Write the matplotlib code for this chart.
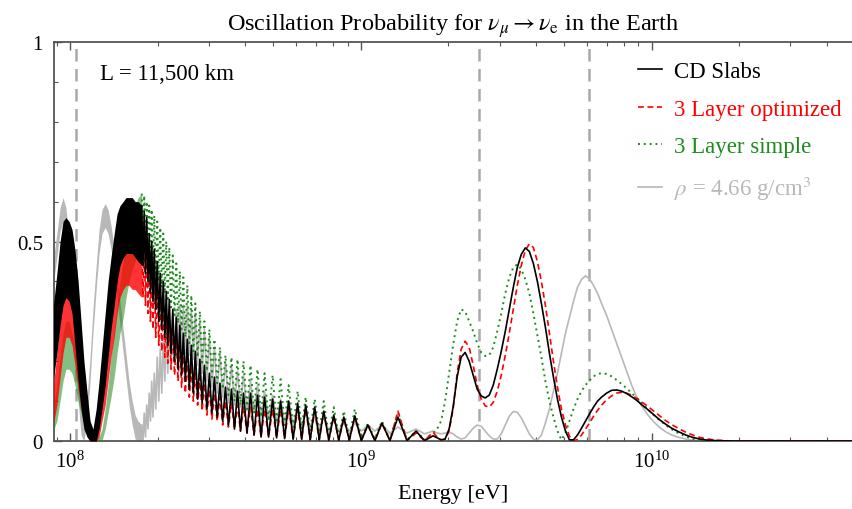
import matplotlib
matplotlib.use('Agg')
import matplotlib.pyplot as plt
import numpy as np
from matplotlib.lines import Line2D
from matplotlib.ticker import MultipleLocator, FixedLocator, FixedFormatter, NullFormatter

plt.rcParams['font.family'] = 'Liberation Serif'
plt.rcParams['mathtext.fontset'] = 'stix'

# All energies below are log10(E / eV).

# Lowest energies: oscillations too fast to resolve, drawn as bands (upper / lower envelope)
low_log10E = [7.940, 7.955, 7.966, 7.976, 7.986, 7.997, 8.007, 8.017, 8.028, 8.038,
              8.048, 8.059, 8.069, 8.079, 8.090, 8.100, 8.110, 8.121, 8.131, 8.141,
              8.152, 8.162, 8.172, 8.183, 8.193, 8.203, 8.214, 8.224, 8.234, 8.2466]

cd_band_hi = [0.32, 0.42, 0.50, 0.55, 0.56, 0.55, 0.53, 0.48, 0.40, 0.30,
              0.20, 0.12, 0.05, 0.03, 0.08, 0.15, 0.23, 0.32, 0.40, 0.46,
              0.52, 0.57, 0.59, 0.60, 0.61, 0.61, 0.61, 0.60, 0.60, 0.59]
cd_band_lo = [0.14, 0.22, 0.29, 0.34, 0.36, 0.35, 0.32, 0.24, 0.15, 0.08,
              0.03, 0.01, 0.0, 0.0, 0.0, 0.03, 0.08, 0.14, 0.21, 0.28,
              0.34, 0.40, 0.44, 0.46, 0.47, 0.47, 0.47, 0.46, 0.45, 0.44]

opt_band_hi = [0.12, 0.22, 0.30, 0.36, 0.39, 0.39, 0.37, 0.33, 0.27, 0.20,
               0.13, 0.08, 0.04, 0.02, 0.04, 0.09, 0.16, 0.25, 0.34, 0.42,
               0.49, 0.54, 0.58, 0.60, 0.61, 0.60, 0.59, 0.58, 0.57, 0.55]
opt_band_lo = [0.03, 0.09, 0.16, 0.22, 0.26, 0.26, 0.24, 0.19, 0.13, 0.08,
               0.04, 0.01, 0.0, 0.0, 0.0, 0.01, 0.05, 0.09, 0.15, 0.21,
               0.26, 0.32, 0.36, 0.38, 0.39, 0.39, 0.38, 0.38, 0.37, 0.36]

simple_band_hi = [0.07, 0.14, 0.21, 0.27, 0.30, 0.30, 0.27, 0.24, 0.20, 0.15,
                  0.11, 0.08, 0.05, 0.03, 0.01, 0.01, 0.03, 0.08, 0.14, 0.21,
                  0.28, 0.34, 0.40, 0.45, 0.50, 0.54, 0.57, 0.59, 0.61, 0.62]
simple_band_lo = [0.02, 0.05, 0.10, 0.15, 0.18, 0.18, 0.17, 0.14, 0.10, 0.07,
                  0.04, 0.02, 0.01, 0.0, 0.0, 0.0, 0.0, 0.03, 0.07, 0.11,
                  0.16, 0.22, 0.27, 0.31, 0.36, 0.40, 0.43, 0.45, 0.47, 0.48]

const_band_hi = [0.44, 0.52, 0.585, 0.61, 0.585, 0.51, 0.40, 0.28, 0.16, 0.075,
                 0.06, 0.11, 0.21, 0.33, 0.44, 0.53, 0.58, 0.595, 0.58, 0.54,
                 0.485, 0.42, 0.35, 0.28, 0.215, 0.15, 0.10, 0.065, 0.05, 0.04]
const_band_lo = [0.38, 0.46, 0.525, 0.55, 0.525, 0.45, 0.34, 0.22, 0.10, 0.015,
                 0.0, 0.05, 0.15, 0.27, 0.38, 0.47, 0.52, 0.535, 0.52, 0.48,
                 0.425, 0.36, 0.29, 0.22, 0.155, 0.09, 0.04, 0.005, 0.0, 0.0]

# Resolved fast oscillations: alternating maxima / minima
osc_log10E = [8.2466, 8.2509, 8.2552, 8.2595, 8.2638, 8.2681, 8.2724, 8.2767, 8.2810, 8.2853,
              8.2897, 8.2948, 8.3000, 8.3052, 8.3103, 8.3155, 8.3207, 8.3259, 8.3310, 8.3362,
              8.3414, 8.3474, 8.3534, 8.3595, 8.3655, 8.3716, 8.3776, 8.3836, 8.3897, 8.3966,
              8.4034, 8.4103, 8.4172, 8.4241, 8.4310, 8.4388, 8.4466, 8.4543, 8.4621, 8.4707,
              8.4793, 8.4879, 8.4966, 8.5060, 8.5155, 8.5250, 8.5345, 8.5448, 8.5552, 8.5655,
              8.5759, 8.5862, 8.5966, 8.6086, 8.6207, 8.6328, 8.6448, 8.6569, 8.6690, 8.6828,
              8.6966, 8.7103, 8.7241, 8.7379, 8.7517, 8.7672, 8.7828, 8.7966, 8.8103, 8.8259,
              8.8414, 8.8569, 8.8724, 8.8897, 8.9069, 8.9241, 8.9414, 8.9603, 8.9793, 9.0017,
              9.0241, 9.0483, 9.0724, 9.1000, 9.1276, 9.1586, 9.1897, 9.2190, 9.2483]

cd_osc = [0.59, 0.44, 0.575, 0.42, 0.56, 0.40, 0.52, 0.37, 0.50, 0.35,
          0.48, 0.33, 0.45, 0.30, 0.42, 0.28, 0.40, 0.26, 0.375, 0.24,
          0.355, 0.22, 0.33, 0.20, 0.31, 0.18, 0.29, 0.165, 0.27, 0.15,
          0.255, 0.13, 0.24, 0.12, 0.225, 0.105, 0.205, 0.095, 0.19, 0.08,
          0.17, 0.07, 0.16, 0.06, 0.145, 0.05, 0.135, 0.04, 0.13, 0.03,
          0.125, 0.025, 0.12, 0.02, 0.12, 0.015, 0.115, 0.01, 0.11, 0.01,
          0.105, 0.008, 0.10, 0.006, 0.10, 0.005, 0.095, 0.004, 0.09, 0.003,
          0.085, 0.003, 0.075, 0.002, 0.065, 0.002, 0.06, 0.002, 0.063, 0.001,
          0.04, 0.001, 0.045, 0.001, 0.06, 0.001, 0.025, 0.001, 0.013]

opt_osc = [0.55, 0.36, 0.53, 0.34, 0.51, 0.32, 0.48, 0.30, 0.46, 0.28,
           0.44, 0.26, 0.41, 0.24, 0.38, 0.225, 0.355, 0.21, 0.33, 0.195,
           0.31, 0.18, 0.285, 0.165, 0.265, 0.15, 0.245, 0.135, 0.225, 0.12,
           0.205, 0.11, 0.19, 0.10, 0.175, 0.09, 0.16, 0.075, 0.145, 0.065,
           0.13, 0.055, 0.12, 0.05, 0.11, 0.04, 0.10, 0.035, 0.095, 0.03,
           0.09, 0.025, 0.085, 0.02, 0.085, 0.015, 0.08, 0.01, 0.08, 0.01,
           0.08, 0.008, 0.08, 0.006, 0.08, 0.005, 0.08, 0.004, 0.08, 0.003,
           0.075, 0.003, 0.072, 0.002, 0.062, 0.002, 0.057, 0.002, 0.06, 0.001,
           0.04, 0.001, 0.045, 0.001, 0.075, 0.001, 0.02, 0.001, 0.022]

simple_osc = [0.62, 0.48, 0.615, 0.47, 0.60, 0.46, 0.59, 0.45, 0.58, 0.435,
              0.565, 0.42, 0.55, 0.40, 0.535, 0.385, 0.52, 0.37, 0.50, 0.35,
              0.485, 0.335, 0.465, 0.315, 0.445, 0.295, 0.425, 0.28, 0.41, 0.26,
              0.39, 0.245, 0.365, 0.225, 0.345, 0.21, 0.325, 0.19, 0.30, 0.175,
              0.28, 0.16, 0.255, 0.145, 0.235, 0.13, 0.215, 0.115, 0.21, 0.10,
              0.205, 0.09, 0.20, 0.08, 0.19, 0.07, 0.18, 0.06, 0.17, 0.05,
              0.165, 0.045, 0.155, 0.04, 0.14, 0.035, 0.125, 0.03, 0.11, 0.025,
              0.105, 0.02, 0.10, 0.015, 0.085, 0.01, 0.075, 0.008, 0.08, 0.006,
              0.045, 0.005, 0.05, 0.004, 0.07, 0.003, 0.025, 0.003, 0.02]

const_osc = [0.04, 0.0, 0.07, 0.01, 0.09, 0.03, 0.12, 0.05, 0.15, 0.06,
             0.17, 0.08, 0.21, 0.10, 0.23, 0.12, 0.26, 0.15, 0.28, 0.17,
             0.30, 0.19, 0.32, 0.205, 0.33, 0.215, 0.34, 0.22, 0.34, 0.22,
             0.34, 0.215, 0.33, 0.205, 0.32, 0.19, 0.30, 0.17, 0.28, 0.15,
             0.26, 0.135, 0.235, 0.12, 0.22, 0.11, 0.20, 0.095, 0.19, 0.09,
             0.175, 0.085, 0.165, 0.075, 0.15, 0.07, 0.14, 0.06, 0.125, 0.055,
             0.115, 0.045, 0.105, 0.045, 0.10, 0.04, 0.085, 0.035, 0.08, 0.03,
             0.07, 0.028, 0.065, 0.025, 0.055, 0.025, 0.045, 0.025, 0.045, 0.025,
             0.04, 0.025, 0.04, 0.02, 0.035, 0.02, 0.03, 0.018, 0.025]

# High energies: smooth resonance region
hi_log10E = [9.2621, 9.2759, 9.2897, 9.3034, 9.3172, 9.3310, 9.3448, 9.3586, 9.3724, 9.3862,
             9.4000, 9.4138, 9.4276, 9.4414, 9.4552, 9.4690, 9.4828, 9.4966, 9.5103, 9.5241,
             9.5379, 9.5517, 9.5655, 9.5793, 9.5931, 9.6069, 9.6207, 9.6345, 9.6483, 9.6621,
             9.6759, 9.6897, 9.7034, 9.7172, 9.7310, 9.7448, 9.7586, 9.7724, 9.7862, 9.8000,
             9.8138, 9.8276, 9.8448, 9.8621, 9.8793, 9.8966, 9.9138, 9.9310, 9.9483, 9.9655,
             9.9862, 10.0069, 10.0276, 10.0483, 10.0690, 10.0931, 10.1172, 10.1414, 10.1655, 10.1931,
             10.2241, 10.2759, 10.3793, 10.5172, 10.70]

cd_hi = [0.008, 0.003, 0.005, 0.03, 0.085, 0.16, 0.21, 0.222, 0.2, 0.165,
         0.13, 0.113, 0.108, 0.115, 0.14, 0.18, 0.225, 0.275, 0.33, 0.385,
         0.435, 0.468, 0.484, 0.475, 0.445, 0.40, 0.345, 0.285, 0.22, 0.16,
         0.105, 0.06, 0.025, 0.003, 0.003, 0.015, 0.032, 0.05, 0.068, 0.085,
         0.1, 0.11, 0.12, 0.127, 0.128, 0.125, 0.119, 0.111, 0.102, 0.091,
         0.079, 0.066, 0.053, 0.042, 0.032, 0.023, 0.015, 0.009, 0.005, 0.002,
         0.001, 0.0, 0.0, 0.0, 0.0]

opt_hi = [0.01, 0.003, 0.004, 0.025, 0.08, 0.17, 0.23, 0.25, 0.235, 0.19,
          0.14, 0.105, 0.088, 0.085, 0.097, 0.125, 0.165, 0.215, 0.27, 0.33,
          0.39, 0.44, 0.478, 0.494, 0.485, 0.45, 0.40, 0.34, 0.27, 0.20,
          0.135, 0.08, 0.04, 0.012, 0.0, 0.004, 0.015, 0.03, 0.045, 0.062,
          0.077, 0.09, 0.103, 0.113, 0.12, 0.122, 0.12, 0.115, 0.107, 0.098,
          0.087, 0.075, 0.063, 0.051, 0.041, 0.031, 0.022, 0.015, 0.009, 0.005,
          0.002, 0.0, 0.0, 0.0, 0.0]

simple_hi = [0.03, 0.05, 0.10, 0.17, 0.24, 0.30, 0.33, 0.325, 0.30, 0.275,
             0.245, 0.222, 0.213, 0.215, 0.235, 0.275, 0.32, 0.37, 0.41, 0.435,
             0.443, 0.43, 0.405, 0.37, 0.32, 0.265, 0.21, 0.15, 0.10, 0.06,
             0.025, 0.003, 0.02, 0.05, 0.08, 0.105, 0.125, 0.14, 0.152, 0.162,
             0.168, 0.17, 0.168, 0.162, 0.153, 0.143, 0.132, 0.12, 0.108, 0.095,
             0.08, 0.065, 0.052, 0.04, 0.029, 0.019, 0.011, 0.005, 0.002, 0.0,
             0.0, 0.0, 0.0, 0.0, 0.0]

const_hi = [0.02, 0.018, 0.02, 0.022, 0.018, 0.01, 0.005, 0.008, 0.02, 0.032,
            0.04, 0.037, 0.025, 0.013, 0.005, 0.005, 0.018, 0.04, 0.062, 0.074,
            0.072, 0.058, 0.038, 0.018, 0.005, 0.002, 0.015, 0.045, 0.08, 0.125,
            0.17, 0.22, 0.27, 0.31, 0.35, 0.385, 0.405, 0.414, 0.406, 0.39,
            0.37, 0.345, 0.315, 0.28, 0.245, 0.21, 0.175, 0.14, 0.11, 0.088,
            0.066, 0.048, 0.034, 0.023, 0.015, 0.009, 0.005, 0.002, 0.001, 0.0,
            0.0, 0.0, 0.0, 0.0, 0.0]

# Energies marked with dashed lines
marker_log10E = [8.021, 9.407, 9.786]

labels = ['CD Slabs', '3 Layer optimized', '3 Layer simple', r'$\rho$ = 4.66 g/cm$^{3}$']

# ---------------------------------------------------------------------------

low_E = 10 ** np.array(low_log10E)
line_E = 10 ** np.concatenate([osc_log10E, hi_log10E])

fig = plt.figure(figsize=(8.53, 5.10), dpi=100)
ax = fig.add_axes([0.0633, 0.1333, 0.9360, 0.7824])

for e in marker_log10E:
    ax.axvline(10 ** e, color='#a9a9a9', lw=1.8, linestyle=(0, (5, 3)), zorder=1)

# (label, color, linestyle, linewidth, band alpha, band hi, band lo, osc, hi)
styles = [
    (labels[3], '#b8b8b8', '-', 1.2, 1.0, const_band_hi, const_band_lo, const_osc, const_hi),
    (labels[2], '#1e8c1e', (0, (1, 2)), 1.4, 0.55, simple_band_hi, simple_band_lo, simple_osc, simple_hi),
    (labels[1], '#ff0000', (0, (3.5, 2.2)), 1.2, 0.8, opt_band_hi, opt_band_lo, opt_osc, opt_hi),
    (labels[0], '#000000', '-', 1.2, 1.0, cd_band_hi, cd_band_lo, cd_osc, cd_hi),
]

handles = {}
for z, (lab, col, ls, lw, alpha, bhi, blo, osc, hi) in enumerate(styles):
    ax.fill_between(low_E, blo, bhi, color=col, alpha=alpha, lw=0, zorder=2 + z)
    ax.plot(line_E, np.concatenate([osc, hi]), color=col, linestyle=ls, lw=lw, zorder=2 + z)
    handles[lab] = Line2D([], [], color=col, linestyle=ls, lw=lw)

ax.set_xscale('log')
ax.set_xlim(10 ** 7.945, 10 ** 10.69)
ax.set_ylim(0, 1)

ax.yaxis.set_major_locator(FixedLocator([0, 0.5, 1]))
ax.yaxis.set_major_formatter(FixedFormatter(['0', '0.5', '1']))
ax.yaxis.set_minor_locator(MultipleLocator(0.1))
ax.xaxis.set_minor_formatter(NullFormatter())

ax.tick_params(which='both', direction='in', top=True, right=False, color='#555555')
ax.tick_params(which='major', length=6, width=1.0, labelsize=15, pad=8)
ax.tick_params(which='minor', length=3, width=0.8)
ax.tick_params(axis='x', which='major', pad=7)

for side in ['left', 'bottom', 'top']:
    ax.spines[side].set_color('#555555')
    ax.spines[side].set_linewidth(1.3)
ax.spines['right'].set_visible(False)

ax.set_xlabel('Energy [eV]', fontsize=16, labelpad=9)
ax.set_title(r'Oscillation Probability for $\nu_\mu \rightarrow \nu_{\rm e}$ in the Earth',
             fontsize=17.5, pad=9)

ax.text(0.058, 0.922, 'L = 11,500 km', transform=ax.transAxes, fontsize=16.5,
        va='center', ha='left')

ax.legend([handles[l] for l in labels], labels, loc='upper left',
          bbox_to_anchor=(0.732, 0.952), frameon=False, labelcolor='linecolor',
          fontsize=16.5, handlelength=1.05, handletextpad=0.5, labelspacing=0.72,
          borderpad=0, borderaxespad=0)

fig.savefig('out.png', dpi=100)
